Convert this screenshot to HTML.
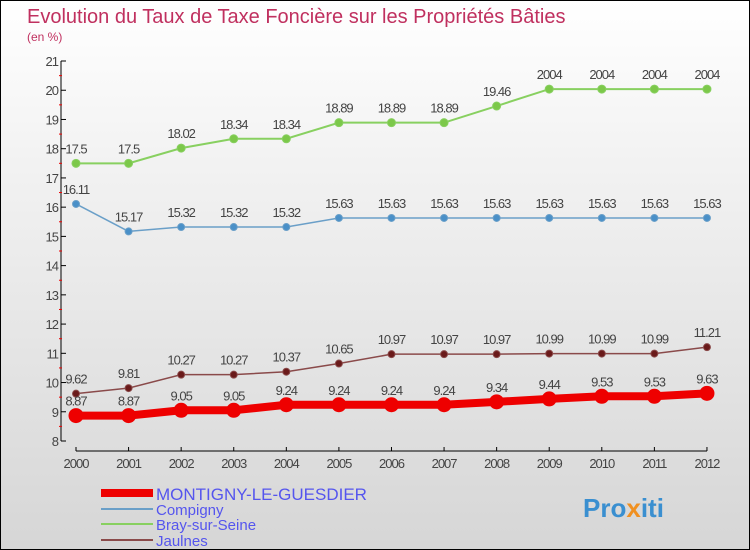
<!DOCTYPE html>
<html><head><meta charset="utf-8"><style>
body{margin:0}
#c{width:750px;height:550px;position:relative;box-sizing:border-box;border:1px solid #000;background:linear-gradient(#fff,#f2f2f2 30%,#d6d6d6);font-family:"Liberation Sans",sans-serif;overflow:hidden}
</style></head><body>
<div id="c">
<svg id="s" width="750" height="550" style="position:absolute;left:0;top:0">
<text x="26" y="22" font-size="20" fill="#c0305f">Evolution du Taux de Taxe Foncière sur les Propriétés Bâties</text>
<text x="26" y="40" font-size="12" fill="#c0305f">(en %)</text>
<g id="axes"></g><g id="series"></g>
<g>
<line x1="100" y1="492" x2="152" y2="492" stroke="#e00" stroke-width="8"/>
<text x="155" y="499" font-size="17" fill="#5555ee">MONTIGNY-LE-GUESDIER</text>
<line x1="100" y1="508" x2="152" y2="508" stroke="#6a9fc8" stroke-width="2"/>
<text x="155" y="514" font-size="15" fill="#5555ee">Compigny</text>
<line x1="100" y1="523" x2="152" y2="523" stroke="#88d060" stroke-width="2"/>
<text x="155" y="529" font-size="15" fill="#5555ee">Bray-sur-Seine</text>
<line x1="100" y1="539" x2="152" y2="539" stroke="#8a4a4a" stroke-width="2"/>
<text x="155" y="545" font-size="15" fill="#5555ee">Jaulnes</text>
</g>
<text x="582" y="516" font-size="26" font-weight="bold" fill="#3a8fd0">Pro<tspan fill="#f09020">x</tspan>iti</text>
</svg>
</div>
<script>
const years=[2000,2001,2002,2003,2004,2005,2006,2007,2008,2009,2010,2011,2012];
const montigny=[8.87,8.87,9.05,9.05,9.24,9.24,9.24,9.24,9.34,9.44,9.53,9.53,9.63];
const compigny=[16.11,15.17,15.32,15.32,15.32,15.63,15.63,15.63,15.63,15.63,15.63,15.63,15.63];
const bray=[17.5,17.5,18.02,18.34,18.34,18.89,18.89,18.89,19.46,20.04,20.04,20.04,20.04];
const jaulnes=[9.62,9.81,10.27,10.27,10.37,10.65,10.97,10.97,10.97,10.99,10.99,10.99,11.21];
const yTicks=[8,9,10,11,12,13,14,15,16,17,18,19,20,21];
const NS="http://www.w3.org/2000/svg";
const X=i=>75+i*52.58, Y=v=>440-(v-8)*29.23;
function mk(t,a,p){const e=document.createElementNS(NS,t);for(const k in a)e.setAttribute(k,a[k]);p.appendChild(e);return e;}
const ax=document.getElementById('axes'),se=document.getElementById('series');
let l=mk('line',{x1:60,y1:60,x2:60,y2:440,stroke:'#000'},ax);

l=mk('line',{x1:75,y1:450,x2:706,y2:450,stroke:'#000'},ax);

yTicks.forEach(v=>{
 mk('line',{x1:60,y1:Y(v),x2:65,y2:Y(v),stroke:'#000'},ax);
 if(v<21)mk('line',{x1:58,y1:Y(v+0.5),x2:61,y2:Y(v+0.5),stroke:'#e00'},ax);
 const t=mk('text',{x:57,y:Y(v)+5,'font-size':13,'text-anchor':'end',fill:'#444','letter-spacing':'-1'},ax);t.textContent=v;
 
});
years.forEach((y,i)=>{
 mk('line',{x1:X(i),y1:446,x2:X(i),y2:450,stroke:'#000'},ax);
 const t=mk('text',{x:X(i),y:467,'font-size':13,'text-anchor':'middle',fill:'#444','letter-spacing':'-1'},ax);t.textContent=y;
 
});
function series(d,col,dot,w,r,name){
 const g=mk('g',{},se);
 
 mk('polyline',{points:d.map((v,i)=>X(i)+','+Y(v)).join(' '),fill:'none',stroke:col,'stroke-width':w},g);
 d.forEach((v,i)=>{
  const c=mk('circle',{cx:X(i),cy:Y(v),r:r,fill:dot,stroke:col,'stroke-width':1},g);
  
  const t=mk('text',{x:X(i),y:Y(v)-10,'font-size':13,'text-anchor':'middle',fill:'#444','letter-spacing':'-1'},g);
  t.textContent=String(v).replace('.04','04');
  
 });
}
series(bray,'#88d060','#7cc84a',2,4,'bray-series');
series(compigny,'#6a9fc8','#4a90c8',1.5,3.5,'compigny-series');
series(jaulnes,'#8a4a4a','#6a1a1a',1.5,3.5,'jaulnes-series');
series(montigny,'#e00','#e00',8,7,'montigny-series');
</script>
</body></html>
